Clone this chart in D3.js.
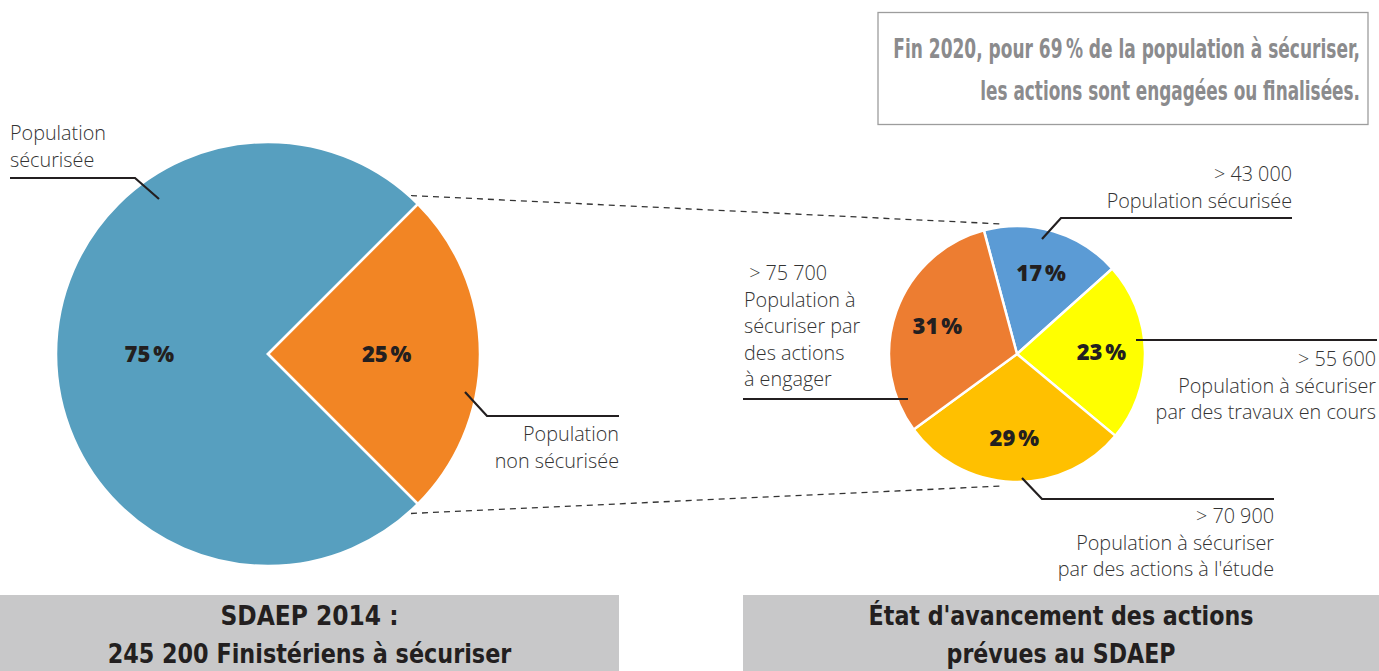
<!DOCTYPE html>
<html>
<head>
<meta charset="utf-8">
<script src="https://cdn.jsdelivr.net/npm/d3@7"></script>
<style>
  body { margin: 0; background: #fff; }
  svg { display: block; }
  .lbl { font-family: "Open Sans", sans-serif; font-weight: 300; font-size: 19.8px; fill: #333; }
  .pct { font-family: "Open Sans", sans-serif; font-weight: 800; font-size: 22px; fill: #231f20; }
  .cond { font-family: "DejaVu Sans Condensed", "DejaVu Sans", sans-serif; font-weight: bold; }
</style>
</head>
<body>
<div id="chart"></div>
<script>
// left pie: SDAEP 2014
const leftCats = ["Population sécurisée", "Population non sécurisée"];
const leftValues = [75, 25];
const leftPct = ["75\u202f%", "25\u202f%"];
const leftColors = ["#579fbf", "#f28524"];

// right pie: état d'avancement
const rightCats = ["Population sécurisée", "Population à sécuriser par des travaux en cours",
  "Population à sécuriser par des actions à l'étude", "Population à sécuriser par des actions à engager"];
const rightValues = [43000, 55600, 70900, 75700];
const rightPct = ["17\u202f%", "23\u202f%", "29\u202f%", "31\u202f%"];
const rightColors = ["#5b9bd5", "#ffff00", "#ffc000", "#ed7d31"];

const width = 1379, height = 671;
const svg = d3.select("#chart").append("svg")
  .attr("width", width).attr("height", height)
  .attr("viewBox", [0, 0, width, height]);

const deg = Math.PI / 180;
const L = {cx: 268, cy: 354, r: 212};
const R = {cx: 1017, cy: 354, r: 128};

// dashed zoom lines between the pies
const dash = [
  [[400, 195], [1003, 224]],
  [[400, 514], [1003, 486]]
];
svg.append("g").selectAll("line").data(dash).join("line")
  .attr("x1", d => d[0][0]).attr("y1", d => d[0][1])
  .attr("x2", d => d[1][0]).attr("y2", d => d[1][1])
  .attr("stroke", "#333").attr("stroke-width", 1.3)
  .attr("stroke-dasharray", "6,5");

function drawPie(cfg, values, colors, pcts, startAngle, labelK) {
  const pie = d3.pie().sort(null).value(d => d)
    .startAngle(startAngle).endAngle(startAngle + 2 * Math.PI);
  const arc = d3.arc().innerRadius(0).outerRadius(cfg.r);
  const labelArc = d3.arc().innerRadius(cfg.r * labelK).outerRadius(cfg.r * labelK);
  const g = svg.append("g").attr("transform", `translate(${cfg.cx},${cfg.cy})`);
  const arcs = pie(values);
  g.selectAll("path").data(arcs).join("path")
    .attr("d", arc)
    .attr("fill", (d, i) => colors[i])
    .attr("stroke", "#fff").attr("stroke-width", 2.5)
    .attr("stroke-linejoin", "miter");
  g.selectAll("text").data(arcs).join("text")
    .attr("class", "pct")
    .attr("transform", d => `translate(${labelArc.centroid(d)})`)
    .attr("text-anchor", "middle")
    .attr("dy", "0.36em")
    .text((d, i) => pcts[i]);
  return arcs;
}

drawPie(L, leftValues, leftColors, leftPct, 135 * deg, 0.56);
drawPie(R, rightValues, rightColors, rightPct, -15 * deg, 0.66);

// leader lines
const leaders = [
  [[159, 199], [135, 178], [10, 178]],
  [[465, 392], [487, 416], [619, 416]],
  [[1042, 239], [1061, 218], [1292, 218]],
  [[1136, 340], [1377, 340]],
  [[1022, 478], [1042, 499], [1274, 499]],
  [[908, 399], [743, 399]]
];
svg.append("g").selectAll("path").data(leaders).join("path")
  .attr("d", d => d3.line()(d))
  .attr("fill", "none").attr("stroke", "#231f20").attr("stroke-width", 2.2);

// text labels
const labels = [
  {x: 10, y: 140, anchor: "start", lines: ["Population", "sécurisée"]},
  {x: 619, y: 441, anchor: "end", lines: ["Population", "non sécurisée"]},
  {x: 1292, y: 181, anchor: "end", lines: ["> 43 000", "Population sécurisée"]},
  {x: 1376, y: 366, anchor: "end", lines: ["> 55 600", "Population à sécuriser", "par des travaux en cours"]},
  {x: 1274, y: 523, anchor: "end", lines: ["> 70 900", "Population à sécuriser", "par des actions à l'étude"]},
  {x: 744, y: 280, anchor: "start", lines: ["\u00a0> 75 700", "Population à", "sécuriser par", "des actions", "à engager"]}
];
const lg = svg.append("g");
labels.forEach(l => {
  const t = lg.append("text").attr("class", "lbl")
    .attr("text-anchor", l.anchor).attr("x", l.x).attr("y", l.y);
  l.lines.forEach((s, i) => t.append("tspan").attr("x", l.x).attr("dy", i ? 26.5 : 0).text(s));
});

// squeeze a text horizontally to a target width (condensed look)
function condensed(sel, x, y, w) {
  sel.attr("x", 0).attr("y", 0);
  const natural = sel.node().getComputedTextLength();
  const k = w ? Math.min(1, w / natural) : 1;
  sel.attr("transform", `translate(${x},${y}) scale(${k},1)`);
}

// note box top right
svg.append("rect").attr("x", 878).attr("y", 12.5).attr("width", 490).attr("height", 112)
  .attr("fill", "#fff").attr("stroke", "#9d9d9d").attr("stroke-width", 1.3);
const note = [
  {text: "Fin 2020, pour 69\u202f% de la population à sécuriser,", y: 58, w: 467},
  {text: "les actions sont engagées ou finalisées.", y: 100, w: 380}
];
note.forEach(n => {
  const t = svg.append("text").attr("class", "cond")
    .attr("text-anchor", "end")
    .attr("font-size", 26).attr("fill", "#8b8b8d")
    .text(n.text);
  condensed(t, 1360, n.y, n.w);
});

// bottom title bands
const bands = [
  {x0: 0, x1: 619, lines: [{t: "SDAEP 2014 :", w: 0}, {t: "245 200 Finistériens à sécuriser", w: 404}]},
  {x0: 743, x1: 1379, lines: [{t: "État d'avancement des actions", w: 385}, {t: "prévues au SDAEP", w: 229}]}
];
bands.forEach(b => {
  svg.append("rect").attr("x", b.x0).attr("y", 595).attr("width", b.x1 - b.x0).attr("height", height - 595)
    .attr("fill", "#c8c8c9");
  b.lines.forEach((ln, i) => {
    const t = svg.append("text").attr("class", "cond")
      .attr("text-anchor", "middle")
      .attr("font-size", 26).attr("fill", "#231f20")
      .text(ln.t);
    condensed(t, (b.x0 + b.x1) / 2, 625 + i * 38, ln.w);
  });
});
</script>
</body>
</html>
